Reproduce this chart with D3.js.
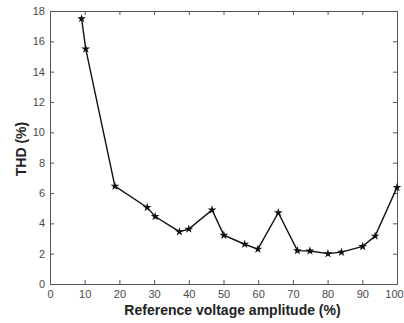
<!DOCTYPE html>
<html>
<head>
<meta charset="utf-8">
<script src="https://cdn.jsdelivr.net/npm/d3@7"></script>
<style>
  body { margin: 0; background: #fff; }
  text { font-family: "Liberation Sans", Arial, sans-serif; }
</style>
</head>
<body>
<script>
// Measured points
var amplitude = [9.1, 10.3, 18.7, 28.0, 30.3, 37.3, 40.0, 46.7, 50.1, 56.1, 59.9, 65.8, 71.3, 74.9, 80.1, 84.0, 90.1, 93.7, 100];
var thd = [17.5, 15.5, 6.45, 5.05, 4.45, 3.45, 3.62, 4.88, 3.22, 2.62, 2.3, 4.7, 2.2, 2.18, 2.0, 2.1, 2.48, 3.16, 6.37];
var xTicks = [0, 10, 20, 30, 40, 50, 60, 70, 80, 90, 100];
var yTicks = [0, 2, 4, 6, 8, 10, 12, 14, 16, 18];

var width = 404, height = 323;
var margin = { left: 50, top: 11, right: 7, bottom: 39 };
var iw = width - margin.left - margin.right;
var ih = height - margin.top - margin.bottom;

var svg = d3.select("body").append("svg")
  .attr("width", width)
  .attr("height", height);

var x = d3.scaleLinear().domain([0, 100]).range([margin.left, margin.left + iw]);
var y = d3.scaleLinear().domain([0, 18]).range([margin.top + ih, margin.top]);

var axisColor = "#555";

// bottom and left axes with inward ticks
var gx = svg.append("g").attr("transform", "translate(0," + (margin.top + ih) + ")")
  .call(d3.axisBottom(x).tickValues(xTicks).tickSizeInner(-4).tickSizeOuter(0).tickPadding(6));
var gy = svg.append("g").attr("transform", "translate(" + margin.left + ",0)")
  .call(d3.axisLeft(y).tickValues(yTicks).tickSizeInner(-4).tickSizeOuter(0).tickPadding(5));
// top and right mirrored ticks
var gt = svg.append("g").attr("transform", "translate(0," + margin.top + ")")
  .call(d3.axisTop(x).tickValues(xTicks).tickSizeInner(-4).tickSizeOuter(0).tickFormat(""));
var gr = svg.append("g").attr("transform", "translate(" + (margin.left + iw) + ",0)")
  .call(d3.axisRight(y).tickValues(yTicks).tickSizeInner(-4).tickSizeOuter(0).tickFormat(""));

[gx, gy, gt, gr].forEach(function(g) {
  g.selectAll("path, line").attr("stroke", axisColor);
  g.selectAll("text").attr("fill", "#4a4a4a").style("font-size", "11px");
});
// keep the last x label inside the page
gx.selectAll("text").filter(function(d) { return d === 100; }).attr("dx", -3);

// line
var line = d3.line().x(function(d, i) { return x(amplitude[i]); }).y(function(d) { return y(d); });
svg.append("path")
  .datum(thd)
  .attr("d", line)
  .attr("fill", "none")
  .attr("stroke", "#111")
  .attr("stroke-width", 1.4);

// markers
svg.selectAll(".pt")
  .data(thd)
  .enter()
  .append("path")
  .attr("class", "pt")
  .attr("transform", function(d, i) { return "translate(" + x(amplitude[i]) + "," + y(d) + ")"; })
  .attr("d", d3.symbol().type(d3.symbolStar).size(24))
  .attr("fill", "#111");

// axis labels
svg.append("text")
  .attr("x", margin.left + iw / 2 + 9)
  .attr("y", 315)
  .attr("text-anchor", "middle")
  .style("font-size", "14px")
  .style("font-weight", "bold")
  .attr("fill", "#222")
  .text("Reference voltage amplitude (%)");

svg.append("text")
  .attr("transform", "translate(26," + 149 + ") rotate(-90)")
  .attr("text-anchor", "middle")
  .style("font-size", "14px")
  .style("font-weight", "bold")
  .attr("fill", "#222")
  .text("THD (%)");
</script>
</body>
</html>
